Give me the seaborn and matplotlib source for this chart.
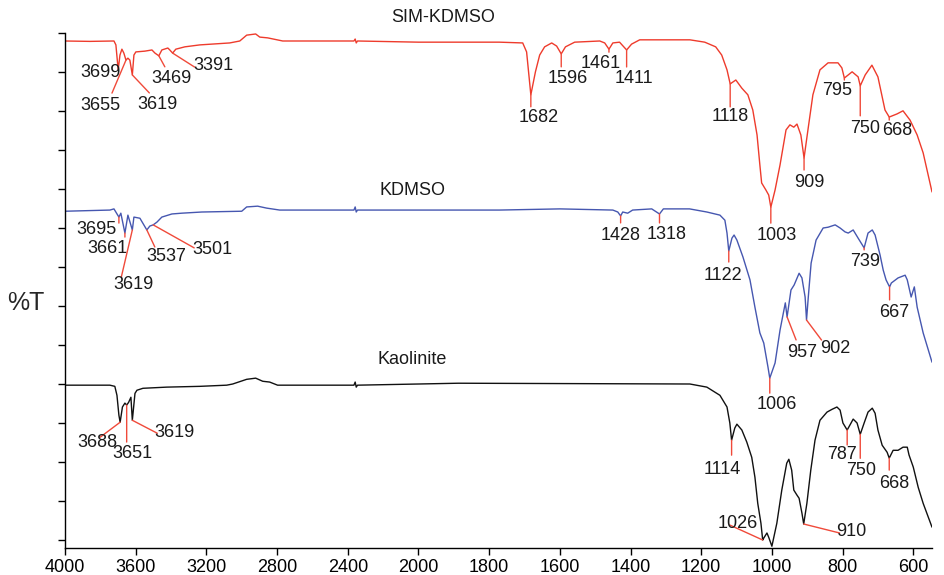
import numpy as np
import pandas as pd
import matplotlib
matplotlib.use("Agg")
import matplotlib.pyplot as plt
import seaborn as sns

# ---------------- data (wavenumber, cm-1  /  relative transmittance) ----------------
red_wn = [4000, 3859, 3723, 3712, 3699, 3689, 3678, 3667, 3655, 3644, 3633, 3619, 3610, 3599, 3548, 3508,
          3491, 3469, 3452, 3418, 3407, 3391, 3373, 3322, 3237, 3068, 3011, 2972, 2921, 2898, 2853, 2768,
          2400, 2365, 2358, 2352, 2345, 2000, 1771, 1705, 1694, 1682, 1669, 1657, 1643, 1623, 1609, 1596,
          1584, 1558, 1487, 1473, 1461, 1450, 1431, 1411, 1397, 1374, 1232, 1190, 1159, 1142, 1127, 1118,
          1110, 1102, 1085, 1068, 1054, 1042, 1034, 1029, 1017, 1009, 1003, 991, 977, 960, 949, 938, 929,
          918, 909, 898, 884, 864, 841, 813, 802, 795, 773, 756, 750, 736, 717, 700, 680, 668, 646, 629,
          609, 589, 572, 547]
red_T = [100, 99.9, 100, 99, 92.6, 96.4, 97.9, 96.9, 95.1, 95.6, 95.1, 91.3, 96.4, 97.2, 97.4, 97.7,
         96.9, 96.2, 97.7, 98.2, 97.7, 96.9, 97.9, 98.5, 99.0, 99.5, 100, 101.5, 101.8, 101.0, 100.8, 100,
         100, 100, 100.5, 99.5, 100, 99.7, 99.7, 99.5, 97.2, 86.2, 92.1, 96.4, 98.5, 99.5, 98.7, 96.7,
         98.5, 99.7, 100, 99.5, 97.9, 99.5, 99.7, 97.7, 99.2, 100.3, 100.3, 99.7, 98.5, 96.4, 92.6, 89.0,
         89.5, 90.0, 87.9, 86.2, 82.3, 75.9, 68.2, 63.6, 61.8, 60.5, 57.4, 61.8, 68.2, 77.2, 78.5, 77.9, 78.7,
         75.9, 70.0, 77.2, 86.2, 92.6, 94.4, 94.4, 93.1, 90.5, 92.1, 90.8, 88.5, 91.3, 93.8, 90.8, 82.3, 80.5,
         81.3, 82.1, 79.7, 75.9, 71.3, 61.3]

blue_wn = [4000, 3746, 3723, 3695, 3684, 3661, 3644, 3619, 3610, 3576, 3537, 3520, 3501, 3480, 3452, 3395,
           3339, 3226, 3000, 2972, 2910, 2859, 2785, 2400, 2365, 2358, 2352, 2345, 2000, 1771, 1600, 1450,
           1436, 1428, 1422, 1408, 1394, 1340, 1318, 1307, 1233, 1184, 1147, 1133, 1127, 1122, 1113, 1107,
           1099, 1082, 1062, 1048, 1034, 1023, 1011, 1006, 991, 977, 962, 957, 946, 937, 923, 915, 906, 902,
           897, 889, 875, 855, 841, 821, 807, 793, 784, 770, 756, 739, 728, 716, 708, 694, 685, 677, 667, 662,
           643, 623, 617, 606, 597, 589, 572, 547]
blue_T = [99.7, 100, 100.3, 98.2, 99.2, 94.1, 98.7, 94.9, 98.2, 97.9, 94.9, 95.9, 96.2, 96.9, 98.2, 99.0,
          99.2, 99.5, 99.7, 100.8, 101.0, 100.5, 100, 100, 100, 100.8, 99.5, 100, 100, 100, 100.3, 100,
          99.5, 98.5, 99.5, 99.2, 100, 100.3, 99.0, 100.3, 100.3, 99.5, 98.7, 97.4, 94.1, 89.5, 92.8, 93.6,
          92.3, 88.0, 82.1, 75.1, 68.5, 65.9, 59.7, 56.9, 60.8, 69.2, 76.2, 72.6, 79.5, 80.8, 83.8, 82.6, 77.7, 71.8,
          77.7, 86.4, 92.3, 95.4, 95.6, 96.2, 95.4, 94.4, 94.1, 94.9, 92.8, 90.3, 94.1, 94.9, 93.6, 88.5, 84.6, 82.1,
          80.3, 81.3, 82.6, 83.3, 82.1, 77.7, 80.3, 75.1, 68.5, 61.0]

black_wn = [4000, 3746, 3718, 3706, 3695, 3688, 3675, 3661, 3651, 3640, 3627, 3619, 3604, 3593, 3559, 3424,
            3237, 3085, 3051, 2972, 2921, 2881, 2842, 2797, 2400, 2365, 2358, 2352, 2345, 2000, 1887, 1232,
            1184, 1147, 1127, 1119, 1114, 1105, 1099, 1085, 1071, 1057, 1048, 1040, 1031, 1026, 1023, 1014,
            1009, 1000, 986, 972, 958, 952, 944, 938, 929, 923, 915, 910, 901, 890, 878, 864, 844, 830, 816,
            807, 799, 787, 776, 770, 759, 750, 739, 728, 716, 708, 700, 688, 674, 668, 657, 643, 629, 617, 612,
            600, 586, 572, 547]
black_T = [100, 100, 99.7, 97.4, 92.3, 90.5, 94.4, 95.4, 94.9, 95.6, 96.9, 91.0, 97.9, 98.7, 99.2, 99.5,
           99.7, 100, 100.3, 101.5, 101.8, 101.0, 100.8, 100, 100, 100, 100.8, 99.5, 100, 100.3, 100.5, 100.3,
           99.5, 97.4, 94.4, 90.3, 85.9, 89.0, 90.0, 88.5, 85.4, 81.5, 76.4, 69.7, 64.6, 60.3, 60.8, 62.1,
           61.0, 58.7, 64.6, 73.1, 80.0, 81.0, 78.2, 73.1, 71.8, 71.0, 67.2, 64.4, 69.7, 78.2, 85.9, 91.0, 93.1, 93.8, 94.4,
           93.6, 90.3, 88.5, 90.3, 91.3, 90.3, 87.4, 90.3, 93.1, 94.1, 92.8, 88.5, 84.6, 82.8, 81.3, 83.3, 83.3, 84.1, 84.1, 82.1,
           79.0, 73.8, 69.7, 63.6]

samples = ["SIM-KDMSO", "KDMSO", "Kaolinite"]

# labelled band positions
red_peaks = [3699, 3655, 3619, 3469, 3391, 1682, 1596, 1461, 1411, 1118, 1003, 909, 795, 750, 668]
blue_peaks = [3695, 3661, 3619, 3537, 3501, 1428, 1318, 1122, 1006, 957, 902, 739, 667]
black_peaks = [3688, 3651, 3619, 1114, 1026, 910, 787, 750, 668]

x_ticks = [4000, 3600, 3200, 2800, 2400, 2000, 1800, 1600, 1400, 1200, 1000, 800, 600]

# ---------------- layout / style ----------------
offsets = {"SIM-KDMSO": 27.95, "KDMSO": -15.4, "Kaolinite": -60.3}
colors = {"SIM-KDMSO": "#EE3B2C", "KDMSO": "#4657B0", "Kaolinite": "#111111"}
LEADER = "#F04A3A"

# (leader-line end offset, text offset) in pixels, image style (dx right, dy down)
red_layout = [(None, (-18, 3)), ((-14, 33), (-26, 45)), ((17, 18), (25, 30)), ((6, 11), (13, 23)),
              ((22, 14), (41, 12)), ((0, 12), (8, 23)), ((0, 13), (7, 25)), ((0, 3), (-8, 14)),
              ((0, 17), (7, 29)), ((0, 23), (0, 33)), ((0, 16), (6, 28)), ((0, 12), (5, 25)),
              ((0, 2), (-7, 12)), ((0, 30), (5, 43)), ((0, 3), (8, 13))]
blue_layout = [((0, 6), (-22, 12)), ((0, 4), (-17, 15)), ((-11, 47), (1, 55)), ((8, 17), (19, 27)),
               ((41, 23), (59, 25)), ((0, 7), (0, 20)), ((0, 9), (7, 21)), ((0, 11), (-6, 24)),
               ((0, 15), (7, 26)), ((9, 23), (15, 36)), ((15, 20), (29, 28)), ((0, 2), (1, 14)),
               ((0, 13), (5, 26))]
black_layout = [((-20, 15), (-23, 20)), ((0, 37), (6, 48)), ((25, 13), (42, 12)), ((0, 15), (-9, 29)),
                ((-33, -15), (-25, -17)), ((36, 9), (48, 7)), ((0, 15), (-5, 24)), ((0, 24), (1, 36)),
                ((0, 12), (5, 25))]

FS = 13

sns.set_style("ticks")
plt.rcParams["font.family"] = ["Liberation Sans", "DejaVu Sans"]

frames = []
for name, wn, T in [("SIM-KDMSO", red_wn, red_T), ("KDMSO", blue_wn, blue_T), ("Kaolinite", black_wn, black_T)]:
    frames.append(pd.DataFrame({"wavenumber": wn, "T": T, "sample": name}))
df = pd.concat(frames, ignore_index=True)
df["y"] = df["T"] + df["sample"].map(offsets)

fig = plt.figure(figsize=(9.45, 5.75), dpi=100)
ax = fig.add_axes([65 / 945, 27 / 575, 867 / 945, 515 / 575])


def fwd(x):
    x = np.asarray(x, dtype=float)
    return np.where(x > 2000, 2000 + (x - 2000) / 2.0, x)


def inv(u):
    u = np.asarray(u, dtype=float)
    return np.where(u > 2000, 2000 + 2.0 * (u - 2000), u)


ax.set_xscale("function", functions=(fwd, inv))

sns.lineplot(data=df, x="wavenumber", y="y", hue="sample", palette=colors, hue_order=samples,
             estimator=None, sort=False, legend=False, linewidth=1.0, ax=ax)

ax.set_xlim(4000, 547)
ax.set_ylim(-2.05, 130)
ax.set_xticks(x_ticks)
ax.set_xticklabels([str(t) for t in x_ticks])
ax.xaxis.set_minor_locator(matplotlib.ticker.NullLocator())
ax.set_yticks(np.arange(0, 131, 10))
ax.set_yticklabels([])
ax.tick_params(direction="out", length=5, width=1, labelsize=FS, colors="black", pad=3)
ax.set_xlabel("")
ax.set_ylabel("")
sns.despine(ax=ax)
for s in ("left", "bottom"):
    ax.spines[s].set_linewidth(1)
    ax.spines[s].set_color("black")


def annotate(wn, T, off, peaks, layout):
    xs = np.asarray(wn, dtype=float)[::-1]
    ys = np.asarray(T, dtype=float)[::-1] + off
    for p, (line, text) in zip(peaks, layout):
        y = float(np.interp(p, xs, ys))
        if line is not None:
            ax.annotate("", xy=(p, y), xytext=(line[0], -line[1]), textcoords="offset pixels",
                        arrowprops=dict(arrowstyle="-", color=LEADER, lw=1, shrinkA=0, shrinkB=0))
        ax.annotate(str(p), xy=(p, y), xytext=(text[0], -text[1]), textcoords="offset pixels",
                    ha="center", va="center", fontsize=FS, color="#1a1a1a")


annotate(red_wn, red_T, offsets["SIM-KDMSO"], red_peaks, red_layout)
annotate(blue_wn, blue_T, offsets["KDMSO"], blue_peaks, blue_layout)
annotate(black_wn, black_T, offsets["Kaolinite"], black_peaks, black_layout)

# series titles
ax.text(1930, 134.1, "SIM-KDMSO", ha="center", va="center", fontsize=FS, color="#1a1a1a")
ax.text(2036, 89.7, "KDMSO", ha="center", va="center", fontsize=FS, color="#1a1a1a")
ax.text(2036, 46.2, "Kaolinite", ha="center", va="center", fontsize=FS, color="#1a1a1a")

ax.text(-0.045, 0.476, "%T", transform=ax.transAxes, fontsize=18, ha="center", va="center")

fig.savefig("out.png", dpi=100)
